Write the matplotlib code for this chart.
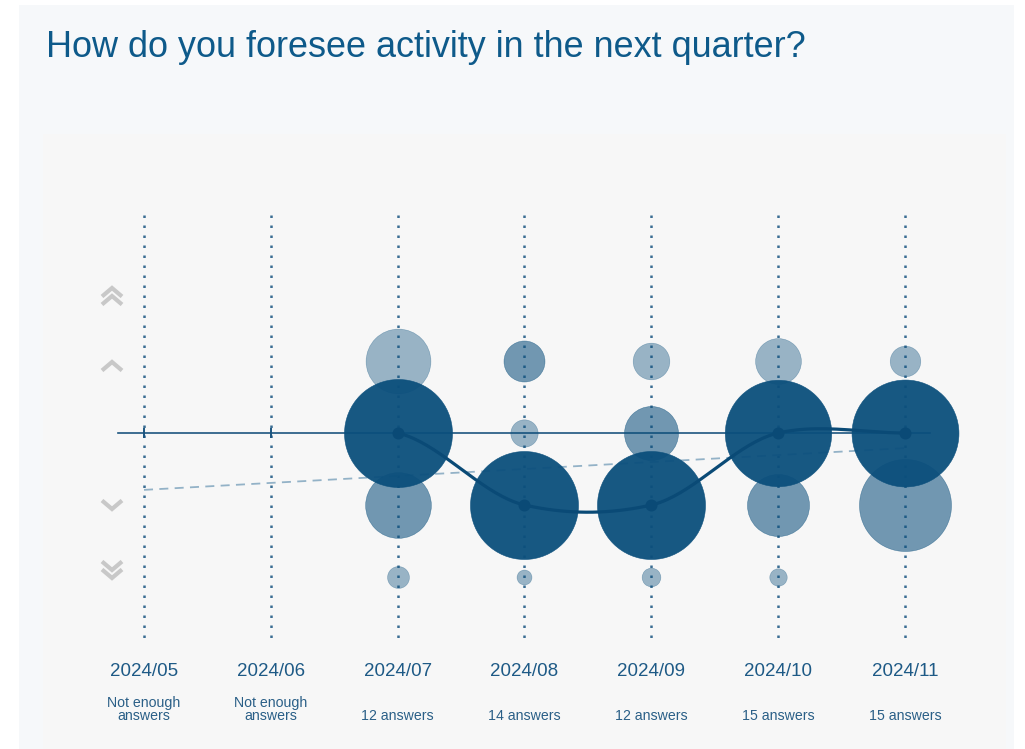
import numpy as np
import matplotlib
matplotlib.use("Agg")
import matplotlib.pyplot as plt
from matplotlib.patches import Rectangle

plt.rcParams['font.family'] = ['Liberation Sans', 'DejaVu Sans']

# ---------------- data ----------------
title = "How do you foresee activity in the next quarter?"
months = ["2024/05", "2024/06", "2024/07", "2024/08", "2024/09", "2024/10", "2024/11"]
answers_text = ["Not enough\nanswers", "Not enough\nanswers", "12 answers", "14 answers",
                "12 answers", "15 answers", "15 answers"]
levels = [2, 1, 0, -1, -2]          # ++, +, =, -, --
# relative bubble size (share of answers, largest = 100) per month, per level
share_0705 = [0, 0, 0, 0, 0]
share_0706 = [0, 0, 0, 0, 0]
share_0707 = [0, 36, 100, 37, 4.1]
share_0708 = [0, 14.4, 6.4, 100, 1.9]
share_0709 = [0, 11.5, 25, 100, 3.0]
share_0710 = [0, 18, 97, 33, 2.6]
share_0711 = [0, 8, 98, 72.6, 0]
shares = [share_0705, share_0706, share_0707, share_0708, share_0709, share_0710, share_0711]
# central tendency per month (None = not enough answers)
mean_level = [None, None, 0, -1, -1, 0, 0]
# trend line end values
trend_start = -0.79
trend_end = -0.21

# ---------------- layout helpers ----------------
W, H = 1025, 749
fig = plt.figure(figsize=(W / 100, H / 100), dpi=100)
fig.patch.set_facecolor("white")
fig.patches.append(Rectangle((19 / W, 0), (1014 - 19) / W, (749 - 5) / H,
                             transform=fig.transFigure, facecolor="#f6f8fa",
                             edgecolor="none", zorder=-5))

X0, DX = 144, 126.83   # pixel of first month, spacing
Y0, DY = 433, 72       # pixel of level 0, spacing
ax_l, ax_r, ax_t, ax_b = 43, 1006, 134, 749
ax = fig.add_axes([ax_l / W, (H - ax_b) / H, (ax_r - ax_l) / W, (ax_b - ax_t) / H])
ax.set_zorder(5)
ax.set_facecolor("#f7f7f7")
ax.set_xlim((ax_l - X0) / DX, (ax_r - X0) / DX)
ax.set_ylim((Y0 - ax_b) / DY, (Y0 - ax_t) / DY)
for s in ax.spines.values():
    s.set_visible(False)
ax.set_xticks([])
ax.set_yticks([])

def py(ypx):
    return (Y0 - ypx) / DY

def px(xpx):
    return (xpx - X0) / DX

base = "#0b4f7c"
xi = np.arange(len(months))

# dotted verticals
for i in xi:
    ax.plot([i, i], [py(215), py(645)], color="#3a6d93", lw=1.8,
            linestyle=(0, (1, 3.0)), dash_capstyle="butt", zorder=1)

# zero line
ax.plot([px(118), px(930)], [0, 0], color="#1d5680", lw=1.2, zorder=2)
for i in xi:
    if mean_level[i] is None:
        ax.plot([i], [0], marker="|", ms=7, mew=1.4, color="#1d5680", zorder=2)

# trend dashed line
ax.plot([0, len(months) - 1], [trend_start, trend_end], color="#93b2c7", lw=1.3,
        linestyle=(0, (5, 3.5)), zorder=2)

# bubbles
rmax_px = 54
for i, sh in enumerate(shares):
    sh = np.array(sh, dtype=float)
    if sh.sum() == 0:
        continue
    order = np.argsort(-sh, kind="stable")
    for rank, k in enumerate(order):
        v = sh[k]
        if v <= 0:
            continue
        alpha = 0.95 if rank == 0 else (0.57 if rank == 1 else 0.40)
        d_pt = 2 * rmax_px * np.sqrt(v / 100) * 0.72
        ax.scatter([i], [levels[k]], s=d_pt ** 2, color=base, alpha=alpha,
                   edgecolors=base, linewidths=0.4, zorder=3 + (3 - rank) * 0.01)

# mean line (cardinal spline)
pts = [(i, m) for i, m in enumerate(mean_level) if m is not None]
xs = np.array([p[0] for p in pts], float)
ys = np.array([p[1] for p in pts], float)
n = len(xs)
tang = np.zeros(n)
for k in range(n):
    a = ys[max(k - 1, 0)]
    b = ys[min(k + 1, n - 1)]
    tang[k] = 0.8 * (b - a) / 2
cx, cy = [], []
for k in range(n - 1):
    t = np.linspace(0, 1, 40)
    h00 = 2 * t**3 - 3 * t**2 + 1
    h10 = t**3 - 2 * t**2 + t
    h01 = -2 * t**3 + 3 * t**2
    h11 = t**3 - t**2
    cx.extend(xs[k] + t * (xs[k + 1] - xs[k]))
    cy.extend(h00 * ys[k] + h10 * tang[k] + h01 * ys[k + 1] + h11 * tang[k + 1])
ax.plot(cx, cy, color="#0a4a76", lw=2.3, zorder=5, solid_capstyle="round")
ax.scatter(xs, ys, s=(12 * 0.72) ** 2, color="#0a4a76", zorder=6, linewidths=0)

# chevron icons
cx0 = px(112)
hw = 10 / DX
chev = dict(color="#c8c8c8", lw=3.0, solid_joinstyle="miter", solid_capstyle="butt", zorder=2)
def chevron(tip_px, up=True):
    arm_px = tip_px + 8.5 if up else tip_px - 8.5
    ax.plot([cx0 - hw, cx0, cx0 + hw], [py(arm_px), py(tip_px), py(arm_px)], **chev)
chevron(288, True); chevron(296, True)
chevron(362, True)
chevron(509, False)
chevron(570, False); chevron(578, False)

# labels
for i in xi:
    ax.text(i, py(671), months[i], ha="center", va="center", fontsize=13.5, color="#1e5a86")
    ax.text(i, py(723), answers_text[i], ha="center", va="bottom",
            fontsize=10.2, color="#2a5f87", linespacing=0.95)

fig.text(46 / W, 1 - 57 / H, title, ha="left", va="baseline", fontsize=25.9, color="#0e5a8a")

fig.savefig("out.png", dpi=100, facecolor=fig.get_facecolor())
